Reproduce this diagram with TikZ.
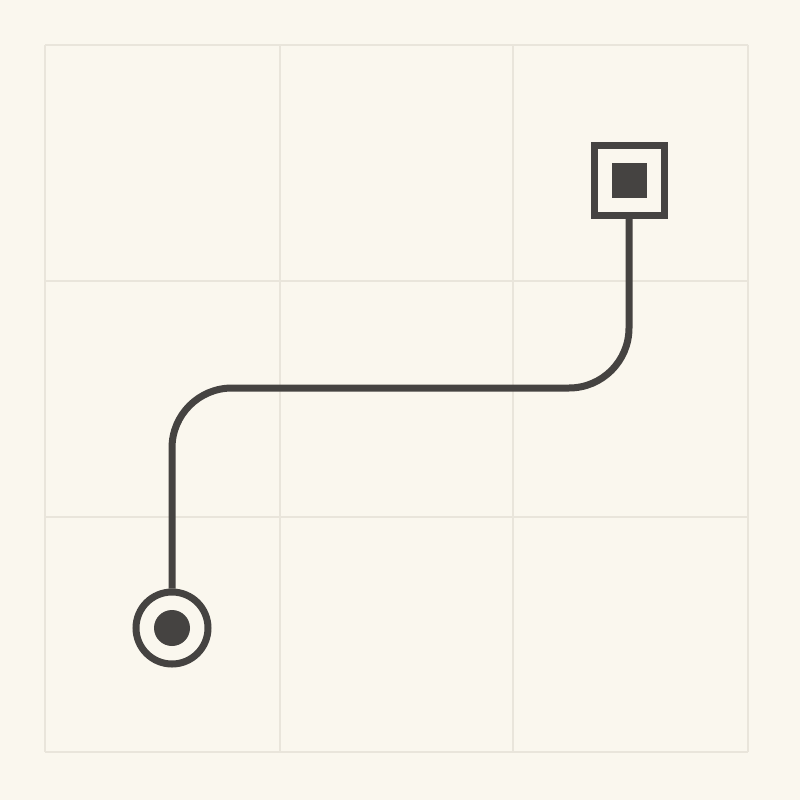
\documentclass[tikz,border=0pt]{standalone}
\usetikzlibrary{positioning,calc}
\definecolor{bgc}{HTML}{FAF7EE}
\definecolor{gridc}{HTML}{E9E5DB}
\definecolor{ink}{HTML}{454341}
\tikzset{
  gridline/.style={draw=gridc, line width=2pt},
  ink line/.style={draw=ink, line width=7pt},
  startmark/.style={circle, ink line, fill=bgc, minimum size=72pt, inner sep=0pt},
  endmark/.style={rectangle, ink line, fill=bgc, minimum size=70pt, inner sep=0pt},
  wire/.style={ink line, rounded corners=60pt}
}
\begin{document}
\begin{tikzpicture}[x=1pt, y=-1pt]
  \fill[bgc] (0,0) rectangle (800,800);
  \useasboundingbox (0,0) rectangle (800,800);
  % grid
  \foreach \x in {45,280,513,748} \draw[gridline] (\x,45) -- (\x,752);
  \foreach \y in {45,281,517,752} \draw[gridline] (45,\y) -- (748,\y);
  % markers
  \node[startmark] (start) at (172,628) {};
  \node[endmark] (end) at (629,180) {};
  \fill[ink] (start.center) circle (18pt);
  \fill[ink] ($(end.center)+(-17.5,-17.5)$) rectangle ($(end.center)+(17.5,17.5)$);
  % connector
  \draw[wire] (start.north) -- (172,388) -- (629,388) -- (end.south);
\end{tikzpicture}
\end{document}
